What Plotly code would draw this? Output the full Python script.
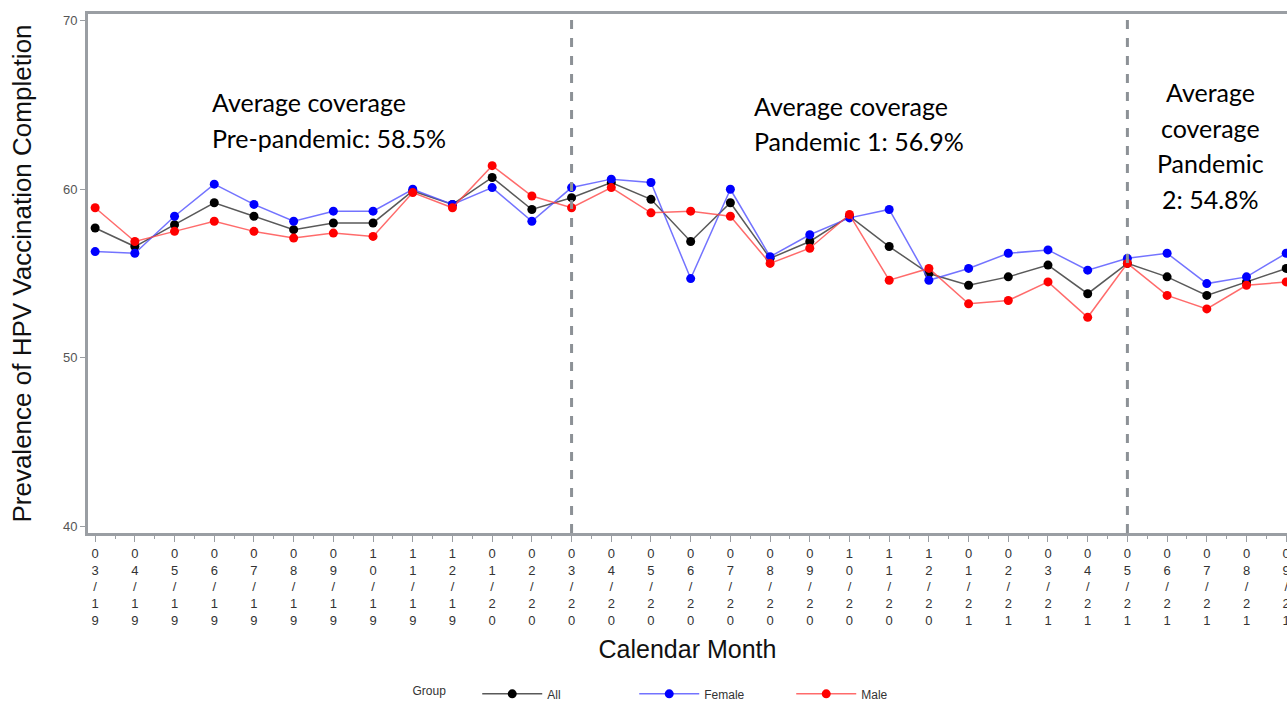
import plotly.graph_objects as go

months = ["03/19","04/19","05/19","06/19","07/19","08/19","09/19","10/19","11/19","12/19",
          "01/20","02/20","03/20","04/20","05/20","06/20","07/20","08/20","09/20","10/20",
          "11/20","12/20","01/21","02/21","03/21","04/21","05/21","06/21","07/21","08/21","09/21"]

all_vals = [57.7,56.6,57.9,59.2,58.4,57.6,58.0,58.0,59.9,59.1,
            60.7,58.8,59.5,60.4,59.4,56.9,59.2,55.9,56.9,58.4,
            56.6,55.0,54.3,54.8,55.5,53.8,55.6,54.8,53.7,54.5,55.3]
female_vals = [56.3,56.2,58.4,60.3,59.1,58.1,58.7,58.7,60.0,59.1,
               60.1,58.1,60.1,60.6,60.4,54.7,60.0,56.0,57.3,58.3,
               58.8,54.6,55.3,56.2,56.4,55.2,55.9,56.2,54.4,54.8,56.2]
male_vals = [58.9,56.9,57.5,58.1,57.5,57.1,57.4,57.2,59.8,58.9,
             61.4,59.6,58.9,60.1,58.6,58.7,58.4,55.6,56.5,58.5,
             54.6,55.3,53.2,53.4,54.5,52.4,55.6,53.7,52.9,54.3,54.5]

period_starts = ["03/20", "05/21"]
annot_lines = [
    ["Average coverage", "Pre-pandemic: 58.5%"],
    ["Average coverage", "Pandemic 1: 56.9%"],
    ["Average", "coverage", "Pandemic", "2: 54.8%"],
]

xpos = list(range(len(months)))
ticktext = ["<br>".join(list(m)) for m in months]

fig = go.Figure()
series = [("All", all_vals, "rgba(60,60,60,0.85)", "#000000"),
          ("Female", female_vals, "rgba(80,80,255,0.8)", "#0000ff"),
          ("Male", male_vals, "rgba(255,70,70,0.8)", "#ff0000")]
for name, vals, lc, mc in series:
    fig.add_trace(go.Scatter(x=xpos, y=vals, mode="lines+markers", name=name,
                             line=dict(color=lc, width=1.5),
                             marker=dict(color=mc, size=9)))

for m in period_starts:
    fig.add_vline(x=months.index(m), line=dict(color="#8c9196", width=3, dash="dash"))

ann_font = dict(family="Lato, Carlito, sans-serif", size=25, color="#000")
a1x = months.index("03/19") + 2.9
for i, t in enumerate(annot_lines[0]):
    fig.add_annotation(x=a1x, y=65.18 - i * 2.14, text=t, showarrow=False, xanchor="left",
                       font=ann_font)
a2x = months.index("03/20") + 4.55
for i, t in enumerate(annot_lines[1]):
    fig.add_annotation(x=a2x, y=64.94 - i * 2.1, text=t, showarrow=False, xanchor="left",
                       font=ann_font)
a3x = months.index("05/21") + 2.1
for i, t in enumerate(annot_lines[2]):
    fig.add_annotation(x=a3x, y=65.77 - i * 2.12, text=t, showarrow=False, xanchor="center",
                       font=ann_font)

axis_col = "#9a9ea3"
fig.update_layout(
    width=1287, height=714,
    margin=dict(l=88, r=0, t=14, b=181),
    plot_bgcolor="white", paper_bgcolor="white",
    font=dict(family="Liberation Sans, Arial, sans-serif", color="#333"),
    showlegend=True,
    legend=dict(orientation="h", x=0.269, xanchor="left", y=-0.282, yanchor="top",
                title=dict(text="Group       ", font=dict(size=12, color="#333")),
                font=dict(size=12, color="#333"),
                itemwidth=60,
                entrywidth=82, entrywidthmode="pixels"),
    xaxis=dict(range=[-0.18, 30.02], tickmode="array", tickvals=xpos, ticktext=ticktext,
               tickangle=0, showline=True, linecolor=axis_col, linewidth=3, mirror=True,
               ticks="outside", ticklen=6, tickcolor=axis_col, tickwidth=1,
               tickfont=dict(size=13, color="#333"), automargin=False,
               ticklabeloverflow="allow",
               minor=dict(tick0=0.5, dtick=1, ticks="outside", ticklen=3, tickcolor=axis_col),
               showgrid=False, zeroline=False,
               title=dict(text="Calendar Month", font=dict(size=25, color="#111"), standoff=14)),
    yaxis=dict(range=[39.6, 70.4], tickvals=[40, 50, 60, 70], showline=True, linecolor=axis_col,
               linewidth=3, mirror=False, ticks="outside", ticklen=5, tickcolor=axis_col,
               tickfont=dict(size=13, color="#555"), showgrid=False, zeroline=False,
               automargin=False,
               title=dict(text="Prevalence of HPV Vaccination Completion",
                          font=dict(size=26, color="#111"), standoff=24)),
)

fig.write_html("out.html", config={"displayModeBar": False},
               post_script="document.body.style.margin='0';document.body.style.overflow='hidden';")
